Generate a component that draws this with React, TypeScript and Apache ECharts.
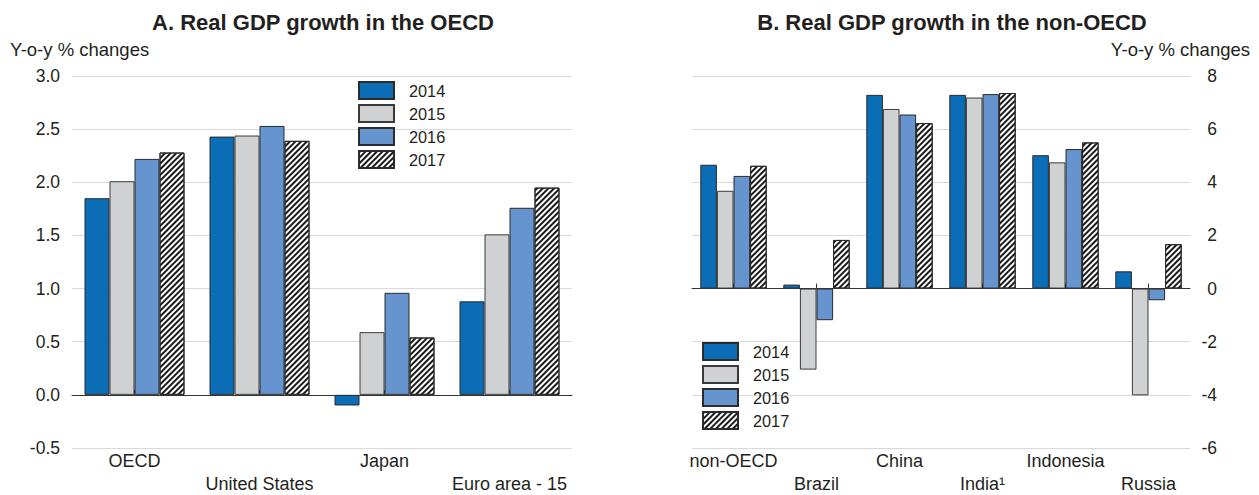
import React, { useEffect, useRef } from "react";
import * as echarts from "echarts";

const years = ["2014", "2015", "2016", "2017"];

const oecdCats = ["OECD", "United States", "Japan", "Euro area - 15"];
const oecd2014 = [1.85, 2.43, -0.1, 0.88];
const oecd2015 = [2.01, 2.44, 0.59, 1.51];
const oecd2016 = [2.22, 2.53, 0.96, 1.76];
const oecd2017 = [2.28, 2.39, 0.54, 1.95];

const nonCats = ["non-OECD", "Brazil", "China", "India\u00b9", "Indonesia", "Russia"];
const non2014 = [4.66, 0.15, 7.29, 7.29, 5.02, 0.65];
const non2015 = [3.68, -3.05, 6.76, 7.19, 4.75, -4.02];
const non2016 = [4.24, -1.19, 6.55, 7.32, 5.25, -0.44];
const non2017 = [4.62, 1.83, 6.23, 7.36, 5.5, 1.67];

const oecdTicksA = { min: -0.5, max: 3, interval: 0.5 };
const nonTicksB = { min: -6, max: 8, interval: 2 };

const FONT = "'Liberation Sans', Arial, Helvetica, sans-serif";
const TXT = "#231f20";

const hatch = {
  symbol: "rect",
  symbolSize: 1,
  symbolKeepAspect: false,
  color: "#1a1a1a",
  backgroundColor: "#ffffff",
  dashArrayX: [1, 0],
  dashArrayY: [1.3, 1.4],
  rotation: -Math.PI / 4,
};

const styles = [
  { color: "#0a6db6", borderColor: "#2b2b2b", borderWidth: 1 },
  { color: "#d0d1d3", borderColor: "#3a3a3a", borderWidth: 1 },
  { color: "#6594cf", borderColor: "#2b2b2b", borderWidth: 1 },
  { color: "#ffffff", borderColor: "#2b2b2b", borderWidth: 1, decal: hatch },
];

export default function App() {
  const ref = useRef<HTMLDivElement>(null);
  useEffect(() => {
    document.body.style.margin = "0";
    const chart = echarts.init(ref.current!, null, { renderer: "svg" });
    const aData = [oecd2014, oecd2015, oecd2016, oecd2017];
    const bData = [non2014, non2015, non2016, non2017];
    const series: any[] = [];
    years.forEach((y, i) => {
      series.push({
        type: "bar",
        name: y,
        xAxisIndex: 0,
        yAxisIndex: 0,
        data: aData[i],
        barCategoryGap: "20%",
        barGap: "0%",
        itemStyle: styles[i],
      });
    });
    years.forEach((y, i) => {
      const s: any = {
        type: "bar",
        name: y,
        xAxisIndex: 1,
        yAxisIndex: 1,
        data: bData[i],
        barCategoryGap: "20%",
        barGap: "0%",
        itemStyle: styles[i],
      };
      if (i === 0) {
        s.markLine = {
          silent: true,
          symbol: "none",
          label: { show: false },
          lineStyle: { color: "#333", width: 1, type: "solid" },
          data: [{ yAxis: 0 }],
        };
      }
      series.push(s);
    });
    const catAxis = (cats: string[], gridIndex: number) => ({
      type: "category",
      gridIndex,
      data: cats,
      axisLine: { show: true, lineStyle: { color: "#333", width: 1 } },
      axisTick: { show: true, alignWithLabel: true, inside: true, length: 5, lineStyle: { color: "#333" } },
      axisLabel: {
        interval: 0,
        margin: 1,
        fontSize: 18,
        lineHeight: 23,
        color: TXT,
        fontFamily: FONT,
        formatter: (v: string, i: number) => (i % 2 === 1 ? "\n" + v : v),
      },
    });
    const legendBase = {
      data: years,
      orient: "vertical",
      padding: 0,
      itemWidth: 35,
      itemHeight: 17,
      itemGap: 4,
      icon: "rect",
      selectedMode: false,
      textStyle: { fontSize: 16.3, color: TXT, fontFamily: FONT, padding: [0, 0, 0, 10] },
    };
    chart.setOption({
      animation: false,
      textStyle: { fontFamily: FONT },
      title: [
        {
          text: "A. Real GDP growth in the OECD",
          left: 318,
          top: 6,
          textAlign: "center",
          textStyle: { fontSize: 22, fontWeight: "bold", color: TXT, fontFamily: FONT },
        },
        {
          text: "B. Real GDP growth in the non-OECD",
          left: 947,
          top: 6,
          textAlign: "center",
          textStyle: { fontSize: 22, fontWeight: "bold", color: TXT, fontFamily: FONT },
        },
      ],
      graphic: [
        {
          type: "text",
          left: 10,
          top: 40,
          style: { text: "Y-o-y % changes", fontSize: 18.5, fill: TXT, fontFamily: FONT },
        },
        {
          type: "text",
          right: 9,
          top: 40,
          style: { text: "Y-o-y % changes", fontSize: 18.5, fill: TXT, fontFamily: FONT },
        },
      ],
      legend: [
        { ...legendBase, left: 358, top: 81 },
        { ...legendBase, left: 702, top: 342 },
      ],
      grid: [
        { left: 72, top: 76, width: 500, height: 372 },
        { left: 692, top: 76, width: 498, height: 372 },
      ],
      xAxis: [catAxis(oecdCats, 0), catAxis(nonCats, 1)],
      yAxis: [
        {
          type: "value",
          gridIndex: 0,
          ...oecdTicksA,
          axisLine: { show: false },
          axisTick: { show: false },
          splitLine: { show: true, lineStyle: { color: "#d9d9d9", width: 1 } },
          axisLabel: {
            margin: 12,
            fontSize: 17.5,
            color: TXT,
            fontFamily: FONT,
            formatter: (v: number) => v.toFixed(1),
          },
        },
        {
          type: "value",
          gridIndex: 1,
          position: "right",
          ...nonTicksB,
          axisLine: { show: false },
          axisTick: { show: false },
          splitLine: { show: true, lineStyle: { color: "#d9d9d9", width: 1 } },
          axisLabel: {
            margin: 27,
            align: "right",
            fontSize: 17.5,
            color: TXT,
            fontFamily: FONT,
          },
        },
      ],
      series,
    });
    return () => chart.dispose();
  }, []);
  return <div ref={ref} style={{ width: 1259, height: 495 }} />;
}
